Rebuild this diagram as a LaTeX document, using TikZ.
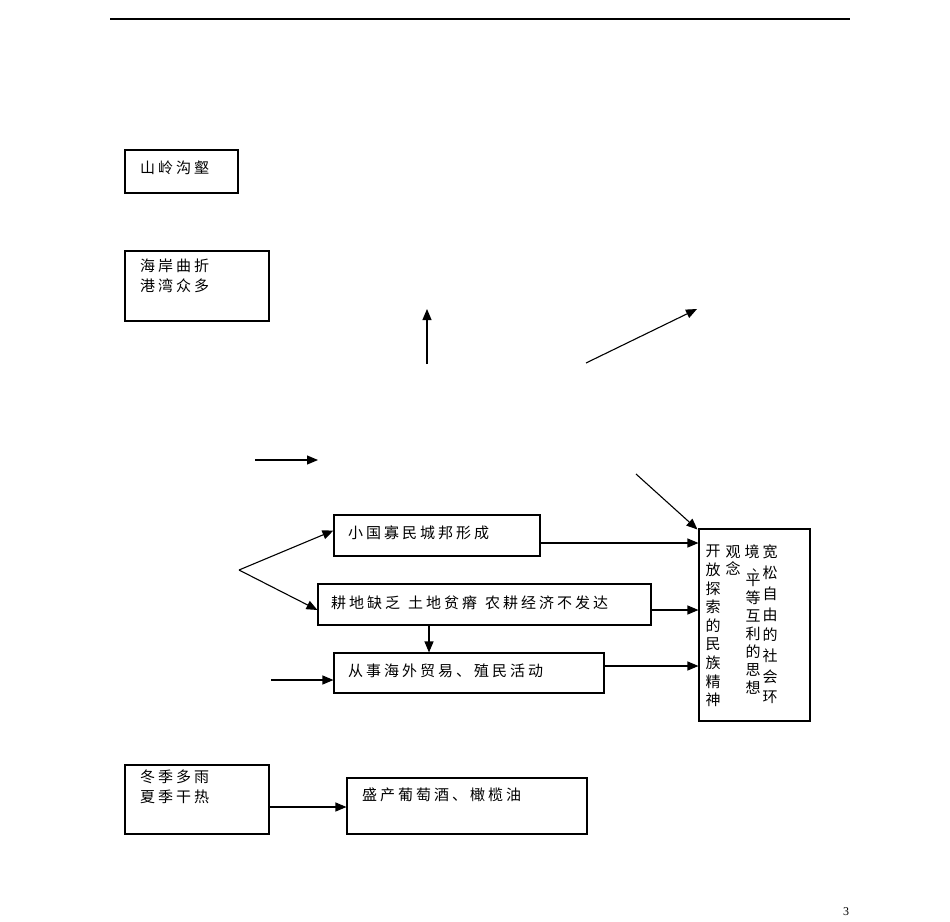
\documentclass[tikz,border=0pt]{standalone}
\usepackage{fontspec}
\setmainfont{Liberation Serif}
\newfontfamily\cjk[LetterSpace=20]{Noto Sans CJK SC}
\newfontfamily\cjkv{Noto Sans CJK SC}
\usetikzlibrary{arrows.meta}
\tikzset{
  box/.style={draw, line width=1.1pt, inner sep=0pt, rectangle},
  txt/.style={anchor=west, inner sep=0pt, align=left, font=\cjk\fontsize{15}{19.5}\selectfont},
  vcol/.style={anchor=north, inner sep=0pt, align=center},
  arr/.style={line width=1.1pt, -{Triangle[length=11pt,width=9pt]}}
}
\begin{document}
\begin{tikzpicture}[x=1pt,y=-1pt]
\useasboundingbox (0,0) rectangle (950,921);
% header rule
\coordinate (h1) at (110,19);
\coordinate (h2) at (850,19);
\draw[line width=1.1pt] (h1) -- (h2);
% boxes
\node[box, minimum width=113pt, minimum height=43pt] (b1) at (181.5,171.5) {};
\node[box, minimum width=144pt, minimum height=70pt] (b2) at (197,286) {};
\node[box, minimum width=206pt, minimum height=41pt] (b3) at (437,535.5) {};
\node[box, minimum width=333pt, minimum height=41pt] (b4) at (484.5,604.5) {};
\node[box, minimum width=270pt, minimum height=40pt] (b5) at (469,673) {};
\node[box, minimum width=111pt, minimum height=192pt] (b6) at (754.5,625) {};
\node[box, minimum width=144pt, minimum height=69pt] (b7) at (197,799.5) {};
\node[box, minimum width=240pt, minimum height=56pt] (b8) at (467,806) {};
% texts
\node[txt] (t1) at (140,168) {山岭沟壑};
\node[txt, anchor=north west] (t2) at (140,259) {海岸曲折\\港湾众多};
\node[txt] (t3) at (348,533) {小国寡民城邦形成};
\node[txt] (t4) at (331,603) {耕地缺乏\hspace{8pt}土地贫瘠\hspace{8pt}农耕经济不发达};
\node[txt] (t5) at (348,671) {从事海外贸易、殖民活动};
\node[txt, anchor=north west] (t7) at (140,770) {冬季多雨\\夏季干热};
\node[txt] (t8) at (362,795) {盛产葡萄酒、橄榄油};
% vertical text in right box
\node[vcol, font=\cjkv\fontsize{15}{20.7}\selectfont] (v1) at (770,545) {宽\\松\\自\\由\\的\\社\\会\\环};
\node[vcol, font=\cjkv\fontsize{15}{18}\selectfont] (v2a) at (752,545) {境};
\node[inner sep=0pt, anchor=base, font=\cjkv\fontsize{12}{14}\selectfont] (v2b) at (758,571) {\makebox[0pt]{、}};
\node[vcol, font=\cjkv\fontsize{15}{18}\selectfont] (v2) at (753,574) {平\\等\\互\\利\\的\\思\\想};
\node[vcol, font=\cjkv\fontsize{15}{17}\selectfont] (v3) at (733,545) {观\\念};
\node[vcol, font=\cjkv\fontsize{15}{18.6}\selectfont] (v4) at (713,545) {开\\放\\探\\索\\的\\民\\族\\精\\神};
% free arrows
\coordinate (a1s) at (427,364); \coordinate (a1e) at (427,309);
\draw[arr] (a1s) -- (a1e);
\coordinate (a2s) at (586,363); \coordinate (a2e) at (697,309);
\draw[arr] (a2s) -- (a2e);
\coordinate (a3s) at (255,460); \coordinate (a3e) at (318,460);
\draw[arr] (a3s) -- (a3e);
\coordinate (a4s) at (636,474);
\draw[arr] (a4s) -- ([xshift=-1pt,yshift=-1pt]b6.north west);
% branch
\coordinate (br) at (239,570);
\draw[arr] (br) -- ([yshift=5pt]b3.west);
\draw[arr] (br) -- ([yshift=-5.5pt]b4.west);
% to right box
\draw[arr] ([yshift=-7.5pt]b3.east) -- ([yshift=-7.5pt]b3.east -| b6.west);
\draw[arr] ([yshift=-5.5pt]b4.east) -- ([yshift=-5.5pt]b4.east -| b6.west);
\draw[arr] ([yshift=7pt]b5.east) -- ([yshift=7pt]b5.east -| b6.west);
% b4 -> b5
\draw[arr] ([xshift=-55.5pt]b4.south) -- ([xshift=-55.5pt]b4.south |- b5.north);
% into b5
\coordinate (a5s) at (271,680);
\draw[arr] (a5s) -- (a5s -| b5.west);
% b7 -> b8
\draw[arr] ([yshift=-7.5pt]b7.east) -- ([yshift=-7.5pt]b7.east -| b8.west);
% page number
\node[inner sep=0pt, font=\fontsize{12}{14}\selectfont] (pn) at (846,912) {3};
\end{tikzpicture}
\end{document}
